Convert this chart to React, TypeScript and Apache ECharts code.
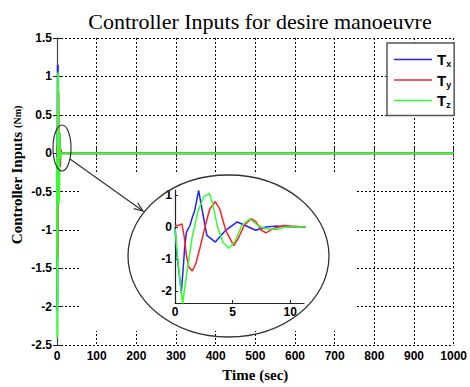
import React, { useEffect, useRef } from "react";
import * as echarts from "echarts";

const title = "Controller Inputs for desire manoeuvre";
const xTitle = "Time (sec)";
const seriesNames = ["Tx", "Ty", "Tz"];
const colors = ["#2222ff", "#ff2222", "#33ff33"];

const txTime = [0, 0.15, 0.55, 0.85, 1.0, 1.3, 1.5, 1.7, 2.05, 2.35, 2.77, 3.5, 4.4, 5.4, 6.1, 7.0, 7.9, 8.7, 10.1, 11.2, 1000];
const txVal = [0, -0.8, -2.05, -0.6, -0.15, 0.05, 0.3, 0.5, 1.15, 0.55, -0.26, -0.47, -0.1, 0.16, 0.05, -0.1, 0, 0.03, 0, 0, 0];

const tyTime = [0, 0.3, 0.6, 0.8, 1.0, 1.2, 1.5, 1.8, 2.2, 2.6, 3.0, 3.5, 3.9, 4.4, 5.1, 5.5, 6.0, 6.6, 7.0, 7.5, 7.9, 8.5, 9.4, 10, 11.2, 1000];
const tyVal = [0.05, 0.05, 0.1, -0.3, -0.9, -1.25, -1.37, -1.15, -0.6, 0.0, 0.55, 0.8, 0.55, -0.1, -0.58, -0.35, 0.05, 0.26, 0.18, -0.1, -0.18, -0.05, 0.05, 0.03, 0, 0];

const tzTime = [0, 0.3, 0.66, 1.0, 1.5, 2.0, 2.5, 3.0, 3.3, 3.7, 4.2, 4.7, 5.2, 5.8, 6.5, 7.2, 7.9, 8.9, 9.5, 11.2, 1000];
const tzVal = [-0.05, -1.2, -2.4, -1.5, -0.3, 0.5, 0.95, 1.05, 0.68, 0.0, -0.5, -0.66, -0.45, 0.05, 0.26, 0.05, -0.05, -0.07, 0, 0, 0];

const insetYTicks = [-2, -1, 0, 1];
const insetXTicks = [0, 5, 10];

const zip = (t: number[], v: number[]) => t.map((x, i) => [x, v[i]]);

export default function App() {
  const ref = useRef<HTMLDivElement>(null);
  useEffect(() => {
    if (!ref.current) return;
    const chart = echarts.init(ref.current, null, { renderer: "svg" });
    const data = [zip(txTime, txVal), zip(tyTime, tyVal), zip(tzTime, tzVal)];
    const labelFont = { fontFamily: "Liberation Sans", fontWeight: "bold" as const, fontSize: 12, color: "#000" };
    const dotted = { color: "#000", width: 1, type: [2, 2] as any };

    const series: any[] = [];
    data.forEach((d, i) => {
      series.push({
        name: seriesNames[i], type: "line", xAxisIndex: 0, yAxisIndex: 0, data: d,
        symbol: "none", lineStyle: { color: colors[i], width: 2 }, itemStyle: { color: colors[i] }, z: 2 + i,
      });
    });
    data.forEach((d, i) => {
      series.push({
        name: seriesNames[i], type: "line", xAxisIndex: 1, yAxisIndex: 1, data: d,
        symbol: "none", lineStyle: { color: colors[i], width: 1.5 }, itemStyle: { color: colors[i] }, z: 10 + i, clip: true,
      });
    });

    const dir = [143 - 70, 211 - 159];
    const len = Math.hypot(dir[0], dir[1]);
    const u = [dir[0] / len, dir[1] / len];
    const p = [-u[1], u[0]];
    const tip = [143, 211];
    const back = [tip[0] - 9 * u[0], tip[1] - 9 * u[1]];
    const h1 = [back[0] + 3.5 * p[0], back[1] + 3.5 * p[1]];
    const h2 = [back[0] - 3.5 * p[0], back[1] - 3.5 * p[1]];

    chart.setOption({
      animation: false,
      backgroundColor: "#fff",
      title: {
        text: title, left: 255, top: 5, textAlign: "center",
        textStyle: { fontFamily: "Liberation Serif", fontSize: 22, fontWeight: "normal", color: "#000" },
      },
      legend: {
        data: seriesNames, orient: "vertical", left: 387, top: 43, selectedMode: false,
        icon: "rect", itemWidth: 38, itemHeight: 1.5,
        padding: [9, 3, 6, 7], itemGap: 4,
        backgroundColor: "#fff", borderColor: "#555", borderWidth: 1.5,
        formatter: (n: string) => `{t|T}{s|${n.slice(1)}}`,
        textStyle: {
          color: "#000",
          rich: {
            t: { fontFamily: "Liberation Sans", fontWeight: "bold", fontSize: 15, color: "#000" },
            s: { fontFamily: "Liberation Sans", fontWeight: "bold", fontSize: 9, color: "#000", padding: [9, 0, 0, 0] },
          },
        },
      },
      grid: [
        { left: 57, top: 38, width: 401, height: 310 },
        { left: 175, top: 190, width: 129, height: 113 },
      ],
      xAxis: [
        {
          gridIndex: 0, type: "value", min: 0, max: 1000, interval: 100,
          name: xTitle, nameLocation: "middle", nameGap: 21,
          nameTextStyle: { fontFamily: "Liberation Serif", fontWeight: "bold", fontSize: 15, color: "#000" },
          axisLine: { lineStyle: { color: "#222", width: 1.2 } },
          axisTick: { inside: true, length: 5, lineStyle: { color: "#222" } },
          axisLabel: { ...labelFont, margin: 5, formatter: (v: number) => String(v) },
          splitLine: { show: true, lineStyle: dotted },
        },
        {
          gridIndex: 1, type: "value", min: 0, max: 11.2, z: 8,
          axisLine: { onZero: false, lineStyle: { color: "#222", width: 1.2 } },
          axisTick: { inside: true, length: 3, customValues: insetXTicks, lineStyle: { color: "#222" } },
          axisLabel: { ...labelFont, margin: 3, customValues: insetXTicks, formatter: (v: number) => String(v) },
          splitLine: { show: false },
        },
        {
          gridIndex: 0, type: "value", min: 0, max: 1000, interval: 100, position: "top",
          axisLine: { show: false },
          axisTick: { inside: true, length: 4, lineStyle: { color: "#222" } },
          axisLabel: { show: false }, splitLine: { show: false },
        },
      ],
      yAxis: [
        {
          gridIndex: 0, type: "value", min: -2.5, max: 1.5, interval: 0.5,
          axisLine: { lineStyle: { color: "#444", width: 1.2 } },
          axisTick: { inside: true, length: 5, lineStyle: { color: "#222" } },
          axisLabel: { ...labelFont, margin: 5 },
          splitLine: { show: true, lineStyle: dotted },
        },
        {
          gridIndex: 1, type: "value", min: -2.375, max: 1.16, z: 8,
          axisLine: { onZero: false, lineStyle: { color: "#222", width: 1.2 } },
          axisTick: { inside: true, length: 3, customValues: insetYTicks, lineStyle: { color: "#222" } },
          axisLabel: { ...labelFont, margin: 3, customValues: insetYTicks },
          splitLine: { show: false },
        },
        {
          gridIndex: 0, type: "value", min: -2.5, max: 1.5, interval: 0.5, position: "right",
          axisLine: { show: false },
          axisTick: { inside: true, length: 4, lineStyle: { color: "#222" } },
          axisLabel: { show: false }, splitLine: { show: false },
        },
      ],
      graphic: [
        { type: "rect", z: 1, shape: { x: 80, y: 172, width: 277, height: 159 }, style: { fill: "#fff" } },
        { type: "ellipse", z: 20, shape: { cx: 228.5, cy: 256, rx: 100.5, ry: 81 }, style: { fill: "none", stroke: "#333", lineWidth: 1.3 } },
        { type: "ellipse", z: 20, shape: { cx: 62, cy: 148, rx: 9, ry: 23 }, style: { fill: "none", stroke: "#333", lineWidth: 1.2 } },
        { type: "line", z: 20, shape: { x1: 70, y1: 159, x2: tip[0], y2: tip[1] }, style: { stroke: "#333", lineWidth: 1.2 } },
        { type: "polyline", z: 20, shape: { points: [h1, tip, h2] }, style: { fill: "none", stroke: "#333", lineWidth: 1.2 } },
        {
          type: "text", z: 20, x: 17, y: 175, rotation: Math.PI / 2,
          style: {
            text: "{a|Controller Inputs }{b|(Nm)}",
            align: "center", verticalAlign: "middle", textAlign: "center", textVerticalAlign: "middle",
            rich: {
              a: { fontFamily: "Liberation Serif", fontWeight: "bold", fontSize: 15, fill: "#000", color: "#000" },
              b: { fontFamily: "Liberation Serif", fontWeight: "bold", fontSize: 10, fill: "#000", color: "#000" },
            },
          },
        },
      ],
      series,
    });
    return () => chart.dispose();
  }, []);
  return <div ref={ref} style={{ position: "fixed", left: 0, top: 0, width: 470, height: 387 }} />;
}
